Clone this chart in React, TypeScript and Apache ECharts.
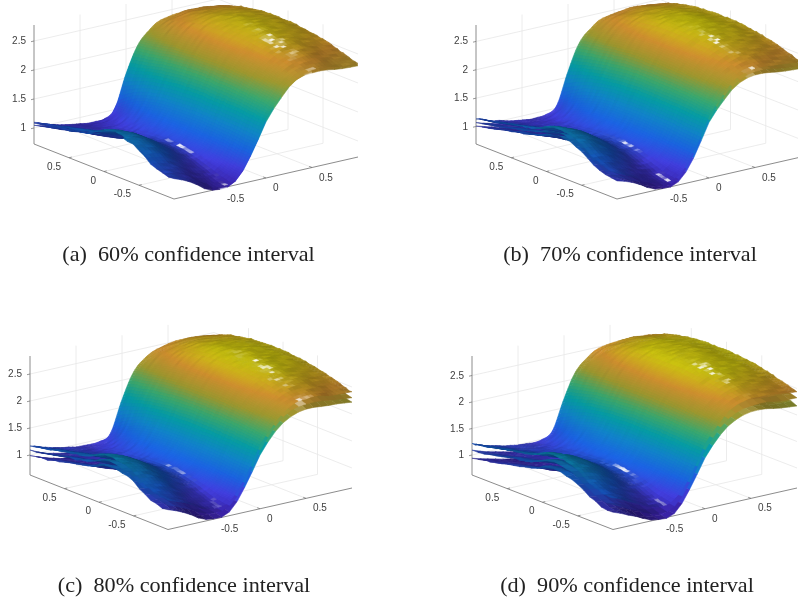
import React, { useEffect, useRef } from "react";
import * as echarts from "echarts";

// Estimated mean surface: rows run along v from -1 to 1, columns along u from -1 to 1.
const gridU = [-1, -0.875, -0.75, -0.625, -0.5, -0.375, -0.25, -0.125, 0, 0.125, 0.25, 0.375, 0.5, 0.625, 0.75, 0.875, 1];
const meanSurface = [
  [1.08,1.09,1.15,1.23,1.35,1.42,1.45,1.46,1.42,1.33,1.28,1.25,1.22,1.18,1.14,1.11,1.08],
  [1.00,1.03,1.10,1.20,1.31,1.38,1.41,1.41,1.37,1.29,1.23,1.19,1.15,1.11,1.07,1.03,1.00],
  [0.90,0.94,1.02,1.12,1.22,1.29,1.32,1.32,1.28,1.21,1.15,1.11,1.07,1.03,1.00,0.97,0.95],
  [0.78,0.83,0.91,1.00,1.09,1.16,1.19,1.19,1.16,1.11,1.06,1.03,1.00,0.97,0.94,0.92,0.90],
  [0.74,0.78,0.84,0.91,0.98,1.03,1.06,1.07,1.06,1.04,1.01,0.99,0.97,0.94,0.91,0.89,0.87],
  [0.76,0.79,0.84,0.90,0.95,0.99,1.02,1.03,1.03,1.02,1.00,0.98,0.96,0.93,0.90,0.87,0.85],
  [0.95,0.97,1.00,1.03,1.06,1.08,1.10,1.11,1.11,1.11,1.10,1.08,1.05,1.01,0.96,0.91,0.86],
  [1.30,1.31,1.33,1.35,1.36,1.37,1.38,1.38,1.38,1.37,1.36,1.34,1.30,1.25,1.18,1.08,0.98],
  [1.72,1.73,1.75,1.77,1.78,1.79,1.79,1.80,1.80,1.79,1.78,1.76,1.73,1.70,1.65,1.60,1.55],
  [2.00,2.03,2.06,2.09,2.12,2.14,2.15,2.16,2.16,2.16,2.15,2.13,2.11,2.08,2.05,2.02,2.00],
  [2.22,2.26,2.30,2.34,2.37,2.39,2.41,2.42,2.42,2.42,2.41,2.39,2.37,2.34,2.30,2.26,2.22],
  [2.34,2.39,2.44,2.48,2.52,2.54,2.56,2.57,2.57,2.57,2.56,2.54,2.52,2.48,2.44,2.39,2.34],
  [2.38,2.44,2.50,2.54,2.58,2.61,2.63,2.64,2.64,2.64,2.63,2.61,2.58,2.54,2.50,2.44,2.38],
  [2.38,2.44,2.50,2.55,2.59,2.62,2.64,2.66,2.66,2.66,2.65,2.63,2.60,2.56,2.52,2.47,2.41],
  [2.35,2.41,2.47,2.52,2.56,2.60,2.62,2.64,2.65,2.65,2.64,2.62,2.60,2.56,2.52,2.47,2.41],
  [2.33,2.38,2.44,2.49,2.53,2.57,2.59,2.61,2.62,2.62,2.61,2.60,2.57,2.54,2.50,2.45,2.39],
  [2.31,2.36,2.41,2.46,2.50,2.53,2.55,2.57,2.58,2.58,2.58,2.57,2.55,2.52,2.48,2.43,2.36],
];
// Hand-typed small surface roughness, in thousandths of a z unit.
const roughness = [
  [3,-6,8,-2,-9,5,1,-7,9,-3,6,-8,2],
  [-5,7,-1,-8,4,9,-6,2,-4,8,-9,3,6],
  [8,-3,-7,5,-2,-6,7,-9,3,1,-5,9,-4],
  [-7,2,9,-4,6,-1,-8,5,7,-6,4,-2,-9],
  [4,-9,1,7,-5,8,-3,-6,2,9,-7,5,-1],
  [-2,6,-8,3,9,-7,4,1,-9,-5,8,-3,7],
  [9,-4,5,-6,-1,3,-9,8,-2,6,-1,-7,4],
  [-8,3,-5,9,2,-4,6,-7,5,-1,-3,8,-6],
  [1,8,-9,-3,7,-8,2,4,-6,3,9,-5,-2],
];
const intervalHalfWidths = [0.02, 0.06, 0.095, 0.13];
const captions = [
  "(a)  60% confidence interval",
  "(b)  70% confidence interval",
  "(c)  80% confidence interval",
  "(d)  90% confidence interval",
];
const horizontalTicks = [-0.5, 0, 0.5];
const horizontalTickLabels = ["-0.5", "0", "0.5"];
const zTicks = [1, 1.5, 2, 2.5];
const zTickLabels = ["1", "1.5", "2", "2.5"];
const surfaceColorStops = ["#3a22a8", "#4240e0", "#1c66e6", "#1288d0", "#06a2aa", "#3eac70", "#a09a30", "#d09030", "#ccc410"];

const panelLayouts = [
  { grid: [0, 0, 400, 300], L: [34, 144], F: [174, 199], R: [358, 157], topY: 25, z1Y: 128, zScale: 58, cap: [188.5, 254] },
  { grid: [400, 0, 398, 300], L: [476, 144], F: [617, 199], R: [801, 157], topY: 25, z1Y: 126.5, zScale: 56.7, cap: [630, 254] },
  { grid: [0, 324, 400, 277], L: [30, 475], F: [168, 529.5], R: [352, 488], topY: 356, z1Y: 455, zScale: 54, cap: [184, 585] },
  { grid: [400, 324, 398, 277], L: [472, 475], F: [613, 529.5], R: [797, 488], topY: 356, z1Y: 455, zScale: 53, cap: [627, 585] },
];

const CLIM = [0.72, 2.72];
const hex = (s: string) => [1, 3, 5].map((k) => parseInt(s.slice(k, k + 2), 16));
const stopsRgb = surfaceColorStops.map(hex);
const normalize = (v: number[]) => {
  const l = Math.hypot(v[0], v[1], v[2]);
  return v.map((a) => a / l);
};
const LIGHT = normalize([-0.1, -0.75, 0.65]);
const HALF = normalize([-0.2, -0.25, 1]);
function shade(z: number, n: number[], ns: number[]) {
  const t = Math.max(0, Math.min(0.9999, (z - CLIM[0]) / (CLIM[1] - CLIM[0]))) * (stopsRgb.length - 1);
  const k = Math.floor(t);
  const f = t - k;
  const c = stopsRgb[k].map((a, m) => a + (stopsRgb[k + 1][m] - a) * f);
  const d = Math.max(0, n[0] * LIGHT[0] + n[1] * LIGHT[1] + n[2] * LIGHT[2]);
  const sDot = Math.max(0, ns[0] * HALF[0] + ns[1] * HALF[1] + ns[2] * HALF[2]);
  const spec = Math.min(0.9, Math.pow(sDot, 220) * 0.95);
  const amb = 0.54 + 0.46 * d;
  return "rgb(" + c.map((a) => Math.round(Math.min(255, a * amb * (1 - spec) + 255 * spec))).join(",") + ")";
}

const cr = (p0: number, p1: number, p2: number, p3: number, t: number) =>
  0.5 * (2 * p1 + (p2 - p0) * t + (2 * p0 - 5 * p1 + 4 * p2 - p3) * t * t + (3 * p1 - p0 - 3 * p2 + p3) * t * t * t);
const clampI = (i: number, n: number) => Math.max(0, Math.min(n - 1, i));
function sampleMean(u: number, v: number) {
  const n = gridU.length;
  const x = Math.max(0, Math.min(n - 1.0001, ((u + 1) / 2) * (n - 1)));
  const y = Math.max(0, Math.min(n - 1.0001, ((v + 1) / 2) * (n - 1)));
  const xi = Math.floor(x);
  const yi = Math.floor(y);
  const col: number[] = [];
  for (let r = -1; r <= 2; r++) {
    const row = meanSurface[clampI(yi + r, n)];
    col.push(cr(row[clampI(xi - 1, n)], row[clampI(xi, n)], row[clampI(xi + 1, n)], row[clampI(xi + 2, n)], x - xi));
  }
  return cr(col[0], col[1], col[2], col[3], y - yi);
}
const mod = (a: number, n: number) => ((a % n) + n) % n;
function roughAt(i: number, j: number, seed: number) {
  const a = mod(j + 4 * i + seed, roughness.length);
  const b = mod(2 * i + 3 * j + seed * 5, roughness[0].length);
  return roughness[a][b] / 1000;
}
function rough(i: number, y: number, seed: number) {
  const s = y / 2;
  const k = Math.floor(s);
  const f = s - k;
  return roughAt(i, k, seed) * (1 - f) + roughAt(i, k + 1, seed) * f;
}

type Cell = { pts: number[][]; fill: string };
function project(p: (typeof panelLayouts)[0], u: number, v: number, z: number) {
  const a = (u + 1) / 2;
  const b = (v + 1) / 2;
  const x = p.F[0] + (p.L[0] - p.F[0]) * a + (p.R[0] - p.F[0]) * b;
  const zmin = 1 - (p.L[1] - p.z1Y) / p.zScale;
  const y = p.F[1] + (p.L[1] - p.F[1]) * a + (p.R[1] - p.F[1]) * b - (z - zmin) * p.zScale;
  return [x - p.grid[0], y - p.grid[1]];
}
function rowEdges(n: number, fine: boolean) {
  const step = 2 / n;
  const out: number[] = [];
  for (let j = 0; j < n; j++) {
    const a = -1 + j * step;
    const b = a + step;
    const parts = fine && a > -0.35 && b < 0.35 ? 3 : 1;
    for (let k = 0; k < parts; k++) out.push(a + (step * k) / parts);
  }
  out.push(1);
  return out;
}
function buildCells(panel: number): Cell[] {
  const p = panelLayouts[panel];
  const hw = intervalHalfWidths[panel];
  const cells: Cell[] = [];
  const layers = [
    { off: -hw, n: 24, seed: panel + 3, fine: false },
    { off: 0, n: 24, seed: panel + 5, fine: false },
    { off: hw, n: 48, seed: panel, fine: true },
  ];
  layers.forEach((layer) => {
    const n = layer.n;
    const amp = n === 48 ? 1 : 1.6;
    const du = 2 / n;
    const rows = rowEdges(n, layer.fine);
    const yOf = (v: number) => (v + 1) / du;
    const r = (i: number, y: number) => amp * rough(i, y, layer.seed);
    const h = 0.09;
    for (let i = n - 1; i >= 0; i--) {
      for (let jr = rows.length - 2; jr >= 0; jr--) {
        const u0 = -1 + i * du;
        const u1 = u0 + du;
        const v0 = rows[jr];
        const v1 = rows[jr + 1];
        const y0 = yOf(v0);
        const y1 = yOf(v1);
        const yc = (y0 + y1) / 2;
        const m = (a: number, b: number) => sampleMean(a, b) + layer.off;
        const z00 = m(u0, v0) + r(i, y0);
        const z10 = m(u1, v0) + r(i + 1, y0);
        const z11 = m(u1, v1) + r(i + 1, y1);
        const z01 = m(u0, v1) + r(i, y1);
        const uc = (u0 + u1) / 2;
        const vc = (v0 + v1) / 2;
        const su = (sampleMean(uc + h, vc) - sampleMean(uc - h, vc)) / (2 * h);
        const sv = (sampleMean(uc, vc + h) - sampleMean(uc, vc - h)) / (2 * h);
        const fu = (r(i + 1, yc) - r(i, yc)) / du;
        const fv = (r(i, yc + 1) - r(i, yc - 1)) / (2 * du);
        const gu = (r(i + 1, yc) + r(i + 2, yc) - r(i, yc) - r(i - 1, yc)) / (4 * du);
        const gv = (r(i, yc + 1.5) - r(i, yc - 1.5)) / (3 * du);
        const nrm = normalize([-(su + 1.3 * fu), -(sv + 1.3 * fv), 1]);
        const nsp = normalize([-(su + 1.5 * gu), -(sv + 1.5 * gv), 1]);
        cells.push({
          pts: [project(p, u0, v0, z00), project(p, u1, v0, z10), project(p, u1, v1, z11), project(p, u0, v1, z01)],
          fill: shade((z00 + z10 + z11 + z01) / 4, nrm, nsp),
        });
      }
    }
  });
  return cells;
}

export default function App() {
  const ref = useRef<HTMLDivElement>(null);
  useEffect(() => {
    const chart = echarts.init(ref.current!, null, { renderer: "svg" });
    const grids = panelLayouts.map((p) => ({ left: p.grid[0], top: p.grid[1], width: p.grid[2], height: p.grid[3] }));
    const xAxes = panelLayouts.map((p, i) => ({ type: "value", gridIndex: i, min: 0, max: p.grid[2], show: false }));
    const yAxes = panelLayouts.map((p, i) => ({ type: "value", gridIndex: i, min: 0, max: p.grid[3], inverse: true, show: false }));
    const series: any[] = [];
    panelLayouts.forEach((p, idx) => {
      const zmin = 1 - (p.L[1] - p.z1Y) / p.zScale;
      const zmax = 1 + (p.z1Y - p.topY) / p.zScale;
      series.push({
        type: "custom",
        coordinateSystem: "cartesian2d",
        xAxisIndex: idx,
        yAxisIndex: idx,
        clip: true,
        silent: true,
        z: 1,
        data: [[0, 0]],
        renderItem: (_: any, api: any) => {
          const P = (u: number, v: number, z: number) => api.coord(project(p, u, v, z));
          const line = (a: number[], b: number[], stroke: string, w: number) => ({
            type: "line",
            shape: { x1: a[0], y1: a[1], x2: b[0], y2: b[1] },
            style: { stroke, lineWidth: w },
          });
          const children: any[] = [];
          const G = "#e7e7e7";
          const A = "#6e6e6e";
          horizontalTicks.forEach((t) => {
            children.push(line(P(t, -1, zmin), P(t, 1, zmin), G, 0.8));
            children.push(line(P(t, 1, zmin), P(t, 1, zmax), G, 0.8));
            children.push(line(P(-1, t, zmin), P(1, t, zmin), G, 0.8));
            children.push(line(P(1, t, zmin), P(1, t, zmax), G, 0.8));
          });
          zTicks.forEach((t) => {
            children.push(line(P(1, -1, t), P(1, 1, t), G, 0.8));
            children.push(line(P(1, 1, t), P(-1, 1, t), G, 0.8));
          });
          children.push(line(P(1, -1, zmin), P(1, -1, zmax), A, 0.8));
          children.push(line(P(1, -1, zmin), P(-1, -1, zmin), A, 0.8));
          children.push(line(P(-1, -1, zmin), P(-1, 1, zmin), A, 0.8));
          const text = (s: string, x: number, y: number, align: string) => ({
            type: "text",
            style: { text: s, x, y, align, verticalAlign: "middle", fontFamily: "Liberation Sans", fontSize: 10, fill: "#404040" },
          });
          horizontalTicks.forEach((t, i) => {
            const a = P(t, -1, zmin);
            const a2 = P(t, -0.97, zmin);
            children.push(line(a, a2, A, 0.7));
            children.push(text(horizontalTickLabels[i], a[0] - 8, a[1] + 8.5, "right"));
            const b = P(-1, t, zmin);
            const b2 = P(-0.96, t, zmin);
            children.push(line(b, b2, A, 0.7));
            children.push(text(horizontalTickLabels[i], b[0] + 7, b[1] + 9.5, "left"));
          });
          zTicks.forEach((t, i) => {
            const a = P(1, -1, t);
            children.push(line(a, [a[0] - 3, a[1] + 0.7], A, 0.7));
            children.push(text(zTickLabels[i], a[0] - 8, a[1] - 0.5, "right"));
          });
          return { type: "group", children };
        },
      });
      const cells = buildCells(idx);
      series.push({
        type: "custom",
        coordinateSystem: "cartesian2d",
        xAxisIndex: idx,
        yAxisIndex: idx,
        clip: true,
        silent: true,
        z: 2,
        progressive: 0,
        data: cells.map((_, i) => [i, i]),
        encode: { x: 0, y: 1 },
        renderItem: (params: any, api: any) => {
          const c = cells[params.dataIndex];
          return {
            type: "polygon",
            shape: { points: c.pts.map((q) => api.coord(q)) },
            style: { fill: c.fill, stroke: c.fill, lineWidth: 0.5 },
          };
        },
      });
    });
    chart.setOption({
      animation: false,
      backgroundColor: "#ffffff",
      grid: grids,
      xAxis: xAxes,
      yAxis: yAxes,
      graphic: captions.map((text, i) => ({
        type: "text",
        x: panelLayouts[i].cap[0],
        y: panelLayouts[i].cap[1],
        scaleX: 1.11,
        silent: true,
        style: {
          text,
          align: "center",
          verticalAlign: "middle",
          fontFamily: "Liberation Serif",
          fontSize: 20,
          fill: "#222222",
        },
      })),
      series,
    });
    return () => chart.dispose();
  }, []);
  return <div ref={ref} style={{ position: "fixed", left: 0, top: 0, width: 798, height: 601, filter: "blur(0.35px)" }} />;
}
